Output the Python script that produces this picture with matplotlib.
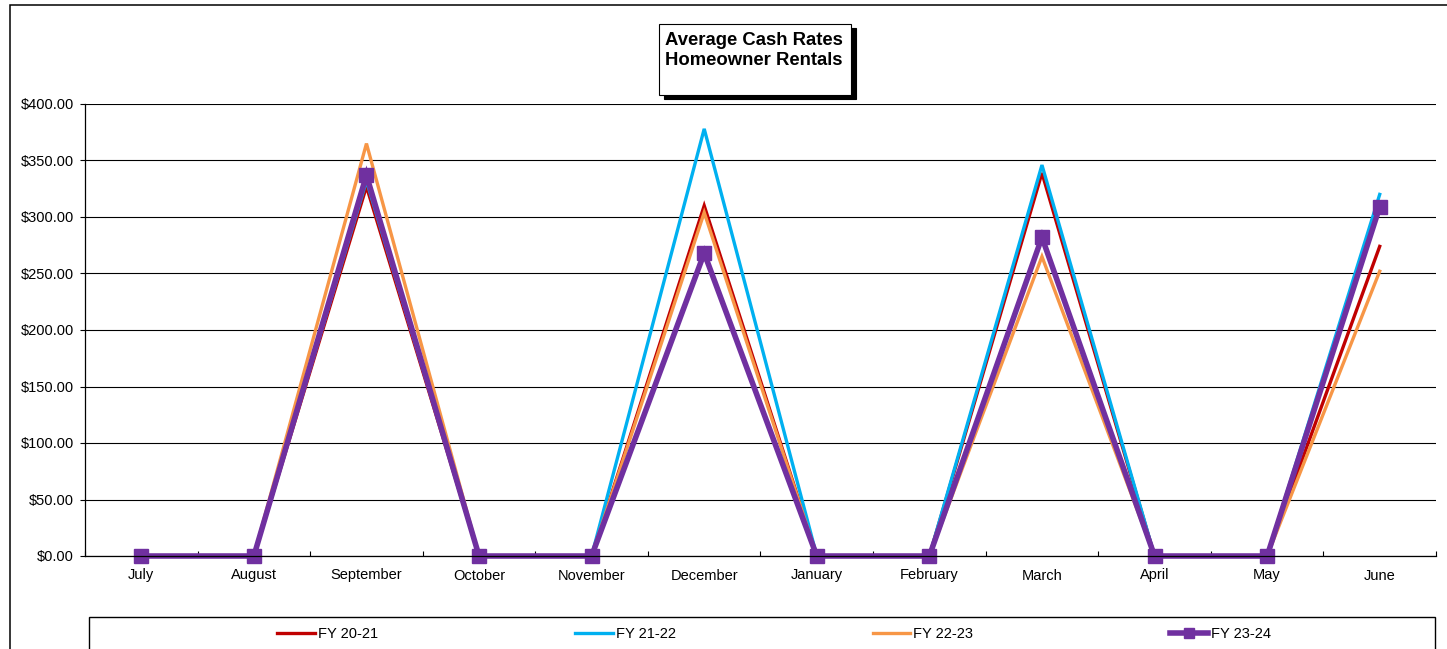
import matplotlib
matplotlib.use("Agg")
import matplotlib.pyplot as plt
from matplotlib.patches import Rectangle
from matplotlib.ticker import FuncFormatter, FixedLocator
import numpy as np

plt.rcParams['font.family'] = ['Liberation Sans', 'DejaVu Sans']

months = ["July", "August", "September", "October", "November", "December",
          "January", "February", "March", "April", "May", "June"]
fy2021 = [0, 0, 327, 0, 0, 310, 0, 0, 339, 0, 0, 274]
fy2122 = [0, 0, 332, 0, 0, 378, 0, 0, 346, 0, 0, 320]
fy2223 = [0, 0, 365, 0, 0, 304, 0, 0, 265, 0, 0, 252]
fy2324 = [0, 0, 337, 0, 0, 268, 0, 0, 282, 0, 0, 309]
series_names = ["FY 20-21", "FY 21-22", "FY 22-23", "FY 23-24"]
yticks = [0, 50, 100, 150, 200, 250, 300, 350, 400]

W, H = 1447, 649
fig = plt.figure(figsize=(W / 100, H / 100), dpi=100)

def fx(px):
    return px / W

def fy(py):
    return 1 - py / H

# outer border (only top and left visible in the crop)
fig.patches.append(Rectangle((fx(10), fy(700)), fx(1500 - 10), fy(5) - fy(700),
                             transform=fig.transFigure, fill=False, ec='black', lw=1.1))

ax = fig.add_axes([fx(85), fy(556), fx(1436 - 85), fy(104) - fy(556)])
x = np.arange(len(months))
ax.plot(x, fy2021, color='#C00000', lw=2.4, label=series_names[0], solid_joinstyle='miter')
ax.plot(x, fy2122, color='#00B0F0', lw=2.4, label=series_names[1], solid_joinstyle='miter')
ax.plot(x, fy2223, color='#F79646', lw=2.4, label=series_names[2], solid_joinstyle='miter')
ax.plot(x, fy2324, color='#7030A0', lw=4.0, marker='s', markersize=10.5,
        label=series_names[3], solid_joinstyle='miter', clip_on=False)

ax.set_xlim(-0.5, 11.5)
ax.set_ylim(0, 400)
ax.set_yticks(yticks)
ax.yaxis.set_major_formatter(FuncFormatter(lambda v, p: f"${v:,.2f}"))
ax.grid(axis='y', color='black', lw=0.8)
ax.set_axisbelow(True)
ax.set_xticks(x)
ax.set_xticklabels(months)
ax.tick_params(axis='x', which='major', length=0, pad=9, labelsize=10.5)
ax.xaxis.set_minor_locator(FixedLocator(np.arange(-0.5, 12, 1)))
ax.tick_params(axis='x', which='minor', direction='in', length=3.5, width=0.8)
ax.tick_params(axis='y', direction='out', length=3.6, width=0.8, pad=4.5, labelsize=10.5)
for s in ['top', 'right']:
    ax.spines[s].set_visible(False)
for s in ['left', 'bottom']:
    ax.spines[s].set_linewidth(0.9)

# title box with shadow
bx0, by0, bx1, by1 = 659, 24, 851, 95
fig.patches.append(Rectangle((fx(bx0 + 5), fy(by1 + 4)), fx(bx1 - bx0), fy(by0) - fy(by1),
                             transform=fig.transFigure, fc='black', ec='black', lw=0.8))
fig.patches.append(Rectangle((fx(bx0), fy(by1)), fx(bx1 - bx0), fy(by0) - fy(by1),
                             transform=fig.transFigure, fc='white', ec='black', lw=0.8))
fig.text(fx(754), fy(50.5), "Average Cash Rates\nHomeowner Rentals", ha='center', va='center',
         multialignment='center', fontsize=13.3, fontweight='bold', linespacing=1.2)

# legend box
fig.patches.append(Rectangle((fx(89), fy(700)), fx(1435 - 89), fy(617) - fy(700),
                             transform=fig.transFigure, fill=False, ec='black', lw=1))
handles, labels = ax.get_legend_handles_labels()
fig.legend(handles, labels, loc='center', bbox_to_anchor=(fx(774), fy(634)), ncol=4,
           frameon=False, fontsize=10.5, handlelength=2.6, handletextpad=0.2,
           columnspacing=13.5, markerscale=0.75)

fig.savefig("out.png", dpi=100)
